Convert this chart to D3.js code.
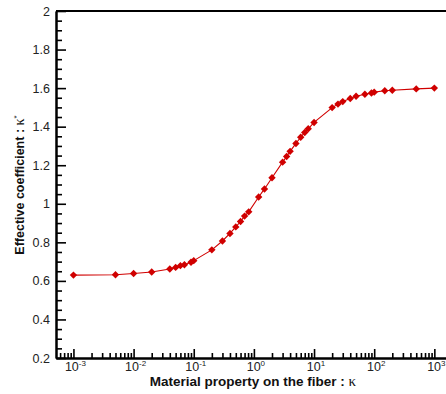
<!DOCTYPE html>
<html>
<head>
<meta charset="utf-8">
<script src="https://cdn.jsdelivr.net/npm/d3@7"></script>
<style>
  body { margin: 0; background: #fff; }
  text { font-family: "Liberation Sans", Arial, sans-serif; }
</style>
</head>
<body>
<div class="chart"></div>
<script>
// DATA ------------------------------------**
const kappa = [0.001, 0.005, 0.01, 0.02, 0.04, 0.05, 0.06, 0.07, 0.09, 0.1,
  0.2, 0.3, 0.4, 0.5, 0.6, 0.7, 0.82, 1.2, 1.5, 2, 3, 3.5, 4, 5, 6, 7, 8, 10,
  20, 25, 30, 40, 50, 70, 90, 100, 150, 200, 500, 1000];
const effective = [0.630, 0.632, 0.638, 0.646, 0.662, 0.670, 0.679, 0.684, 0.697, 0.705,
  0.761, 0.807, 0.846, 0.880, 0.908, 0.936, 0.958, 1.035, 1.077, 1.135, 1.216, 1.245, 1.272, 1.313, 1.345, 1.370, 1.389, 1.422,
  1.499, 1.517, 1.530, 1.546, 1.558, 1.568, 1.575, 1.579, 1.586, 1.589, 1.596, 1.600];
const xTickExps = [-3, -2, -1, 0, 1, 2, 3];
const yTicks = [0.2, 0.4, 0.6, 0.8, 1, 1.2, 1.4, 1.6, 1.8, 2];

const data = kappa.map((k, i) => ({k: k, v: effective[i]}));

// CHART INIT ------------------------------**
const margin = {top: 11, right: 0, bottom: 35, left: 56};
const height = 394 - margin.top - margin.bottom;

const svg = d3.select('.chart').append('svg')
    .attr('width', 446)
    .attr('height', 394)
    .append('g')
    .attr('transform', 'translate(' + margin.left + ',' + margin.top + ')');

let xScale = d3.scaleLog()
    .domain([Math.pow(10, -3.29), Math.pow(10, 3.36)])
    .range([0, 400]);

let yScale = d3.scaleLinear()
    .domain([0.2, 2])
    .range([height - 1, 0]);

// minor ticks on x: 2..9 per decade
let xMinor = [];
for (let e = -4; e <= 3; e++) {
    for (let m = 2; m <= 9; m++) {
        let t = m * Math.pow(10, e);
        if (t > xScale.domain()[0] && t < xScale.domain()[1]) xMinor.push(t);
    }
}
let yMinor = d3.range(0.25, 2, 0.05).filter(t => Math.abs(t * 5 - Math.round(t * 5)) > 0.01);

// axes
let xAxis = d3.axisBottom(xScale)
    .tickValues(xTickExps.map(e => Math.pow(10, e)))
    .tickSizeInner(-9).tickSizeOuter(0).tickFormat('');
let xAxisMinor = d3.axisBottom(xScale)
    .tickValues(xMinor).tickSizeInner(-5).tickSizeOuter(0).tickFormat('');
let yAxis = d3.axisLeft(yScale)
    .tickValues(yTicks).tickSizeInner(-10).tickSizeOuter(0).tickFormat('');
let yAxisMinor = d3.axisLeft(yScale)
    .tickValues(yMinor).tickSizeInner(-6).tickSizeOuter(0).tickFormat('');

let xAxisGroup = svg.append('g')
    .attr('class', 'axis x-axis')
    .attr('transform', 'translate(0,' + (height - 1) + ')');
xAxisGroup.call(xAxis);
xAxisGroup.append('g').call(xAxisMinor);

let yAxisGroup = svg.append('g')
    .attr('class', 'axis y-axis');
yAxisGroup.call(yAxis);
yAxisGroup.append('g').call(yAxisMinor);

svg.selectAll('.axis path.domain').attr('stroke', '#000').attr('stroke-width', 2);
svg.selectAll('.axis .tick line').attr('stroke', '#000').attr('stroke-width', 1.6);

// top frame line
svg.append('line')
    .attr('x1', 0).attr('x2', 400)
    .attr('y1', 0).attr('y2', 0)
    .attr('stroke', '#000').attr('stroke-width', 2);

// tick labels
svg.selectAll('.ylab')
    .data(yTicks)
    .enter().append('text')
    .attr('class', 'ylab')
    .attr('x', -6)
    .attr('y', d => yScale(d) + 4.5)
    .attr('text-anchor', 'end')
    .attr('font-size', 12.5)
    .attr('fill', '#222')
    .text(d => d);

let xl = svg.selectAll('.xlab')
    .data(xTickExps)
    .enter().append('text')
    .attr('class', 'xlab')
    .attr('x', d => xScale(Math.pow(10, d)) + 2)
    .attr('y', height + 12)
    .attr('text-anchor', 'middle')
    .attr('font-size', 12.5)
    .attr('fill', '#222');
xl.append('tspan').text('10');
xl.append('tspan').attr('dy', -5).attr('font-size', 8).text(d => d < 0 ? '-' + (-d) : d);

// axis titles
let xTitle = svg.append('text')
    .attr('x', 197)
    .attr('y', height + 27)
    .attr('text-anchor', 'middle')
    .attr('font-size', 13.5)
    .attr('font-weight', 'bold')
    .attr('fill', '#111');
xTitle.append('tspan').text('Material property on the fiber : ');
xTitle.append('tspan').attr('font-family', 'Liberation Serif').attr('font-weight', 'normal').attr('font-size', 15).text('κ');

let yTitle = svg.append('text')
    .attr('transform', 'translate(' + (-32) + ',' + 174 + ') rotate(-90)')
    .attr('text-anchor', 'middle')
    .attr('font-size', 12.5)
    .attr('font-weight', 'bold')
    .attr('fill', '#111');
yTitle.append('tspan').text('Effective coefficient : ');
yTitle.append('tspan').attr('font-family', 'Liberation Serif').attr('font-weight', 'normal').attr('font-size', 14).text('κ');
yTitle.append('tspan').attr('dy', -5).attr('font-size', 8).attr('font-weight', 'normal').text('*');

// line and markers
const line = d3.line()
    .x(d => xScale(d.k))
    .y(d => yScale(d.v));

svg.append('path')
    .datum(data)
    .attr('fill', 'none')
    .attr('stroke', '#d00000')
    .attr('stroke-width', 1.1)
    .attr('d', line);

svg.selectAll('.pt')
    .data(data)
    .enter().append('path')
    .attr('class', 'pt')
    .attr('d', 'M0,-3.7L3.7,0L0,3.7L-3.7,0Z')
    .attr('transform', d => 'translate(' + xScale(d.k) + ',' + yScale(d.v) + ')')
    .attr('fill', '#d00000');
</script>
</body>
</html>
